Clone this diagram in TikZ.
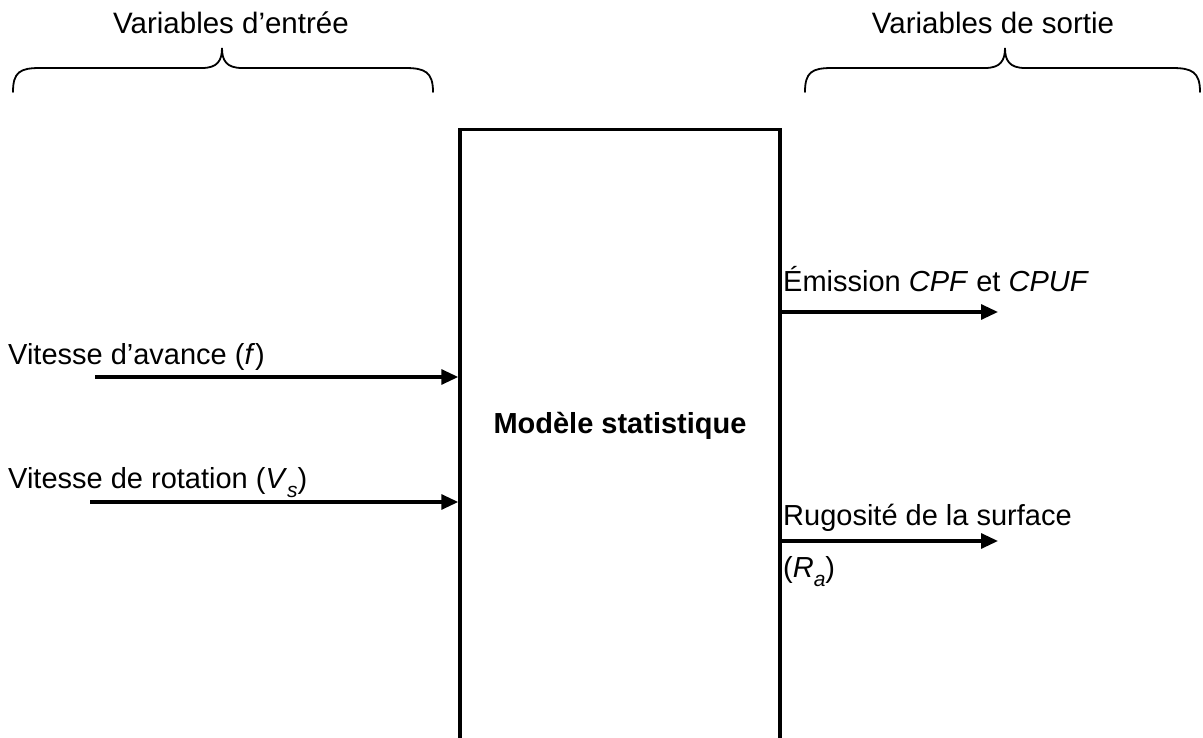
\documentclass[tikz,border=0pt]{standalone}
\usepackage{fontspec}
\setmainfont{Liberation Sans}
\usetikzlibrary{arrows.meta}

\newcommand{\indice}[1]{\raisebox{-9pt}{\fontsize{21}{24}\selectfont\itshape #1}}
\tikzset{lbl/.style={anchor=base west,inner sep=0pt,font=\fontsize{29}{34}\selectfont},
         titre/.style={anchor=base,inner sep=0pt,font=\fontsize{29.5}{34}\selectfont},
         fleche/.style={line width=3.2pt,-{Triangle[length=17pt,width=15pt]}},
         accolade/.style={line width=1.8pt,line cap=round}}

\begin{document}
\begin{tikzpicture}[x=1pt,y=-1pt]
\useasboundingbox (0,0) rectangle (1203,738);
\clip (0,0) rectangle (1203,738);
% boite du modele
\node[draw,line width=3.5pt,anchor=north,minimum width=320pt,minimum height=700pt] (boite) at (620,128) {};
\node[anchor=base,font=\fontsize{29}{34}\selectfont\bfseries] (modele) at (620,433) {Modèle statistique};
% accolades
\node[titre] (entree) at (231,34) {Variables d’entrée};
\node[titre] (sortie) at (993,34) {Variables de sortie};
\draw[accolade] (13,92) .. controls (13,72) and (20,68) .. (40,68) -- (202,68) .. controls (218,68) and (222,60) .. (222,48)
   .. controls (222,60) and (226,68) .. (242,68) -- (405,68) .. controls (425,68) and (433,72) .. (433,92);
\draw[accolade] (805,92) .. controls (805,72) and (812,68) .. (832,68) -- (985,68) .. controls (1001,68) and (1005,60) .. (1005,48)
   .. controls (1005,60) and (1009,68) .. (1025,68) -- (1172,68) .. controls (1192,68) and (1200,72) .. (1200,92);
% entrees
\node[lbl] (avance) at (8,364) {Vitesse d’avance (\textit{f})};
\node[lbl] (rotation) at (8,488) {Vitesse de rotation (\textit{V}\indice{s})};
\coordinate (e1) at (95,377);
\coordinate (e2) at (90,502);
\draw[fleche] (e1) -- (e1 -| boite.west);
\draw[fleche] (e2) -- (e2 -| boite.west);
% sorties
\node[lbl] (emission) at (783,292) {Émission \textit{CPF} et \textit{CPUF}};
\node[lbl] (rugosite) at (783,525) {Rugosité de la surface};
\node[lbl] (ra) at (783,577) {(\textit{R}\indice{a})};
\coordinate (s1) at (998,312);
\coordinate (s2) at (998,541);
\draw[fleche] (s1 -| boite.east) -- (s1);
\draw[fleche] (s2 -| boite.east) -- (s2);
\end{tikzpicture}
\end{document}
